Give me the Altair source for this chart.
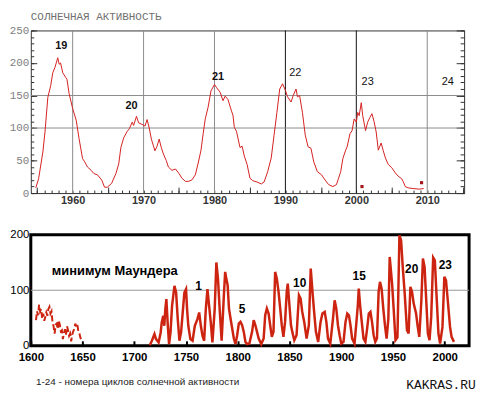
import altair as alt
import pandas as pd

# ---------------- top panel (1954-2015) ----------------
top_years = [1954.8, 1955.2, 1955.8, 1956.1, 1956.5, 1956.9, 1957.2, 1957.5, 1957.9, 1958.1,
             1958.3, 1958.6, 1959.0, 1959.2, 1959.5, 1960.0, 1960.5, 1960.9, 1961.4, 1961.7,
             1962.1, 1962.6, 1963.0, 1963.5, 1964.1, 1964.5, 1964.9, 1965.5, 1966.1, 1966.5,
             1966.8, 1967.2, 1967.7, 1968.0, 1968.4, 1968.6, 1969.0, 1969.3, 1969.9, 1970.2,
             1970.5, 1970.8, 1971.1, 1971.6, 1971.9, 1972.2, 1972.5, 1972.8, 1973.2, 1973.5,
             1974.0, 1974.5, 1975.0, 1975.4, 1975.9, 1976.3, 1976.8, 1977.3, 1977.7, 1978.1,
             1978.4, 1978.7, 1979.1, 1979.5, 1980.0, 1980.3, 1980.8, 1981.2, 1981.5, 1981.9,
             1982.4, 1982.6, 1982.8, 1983.1, 1983.6, 1983.9, 1984.2, 1984.6, 1985.0, 1985.4,
             1986.0, 1986.6, 1987.0, 1987.5, 1988.0, 1988.4, 1988.8, 1989.2, 1989.6, 1990.0,
             1990.3, 1990.8, 1991.1, 1991.5, 1991.7, 1992.0, 1992.4, 1992.8, 1993.2, 1993.6,
             1994.0, 1994.5, 1995.1, 1995.6, 1996.1, 1996.7, 1997.2, 1997.5, 1997.8, 1998.1,
             1998.5, 1998.7, 1999.1, 1999.4, 1999.7, 2000.0, 2000.2, 2000.4, 2000.7, 2000.9,
             2001.3, 2001.6, 2001.9, 2002.2, 2002.5, 2002.8, 2003.1, 2003.5, 2003.8, 2004.1,
             2004.5, 2005.0, 2005.5, 2005.9, 2006.4, 2006.6, 2006.9, 2007.3, 2008.0, 2008.9,
             2009.5]
top_values = [8, 22, 63, 94, 147, 165, 185, 193, 208, 198,
              200, 185, 178, 175, 153, 130, 112, 84, 53, 48,
              40, 35, 30, 28, 20, 9, 9, 15, 30, 45,
              70, 85, 95, 99, 109, 104, 118, 108, 105, 103,
              113, 100, 83, 65, 72, 83, 70, 60, 50, 40,
              35, 37, 30, 23, 18, 18, 20, 28, 46, 66,
              91, 114, 132, 157, 167, 162, 155, 142, 149, 144,
              126, 120, 101, 95, 70, 72, 57, 44, 23, 19,
              17, 14, 17, 33, 54, 89, 124, 160, 168, 158,
              148, 140, 150, 160, 148, 150, 124, 89, 71, 69,
              48, 33, 28, 20, 13, 10, 13, 23, 33, 53,
              66, 71, 91, 96, 114, 109, 124, 119, 139, 119,
              96, 109, 116, 122, 110, 94, 66, 77, 65, 54,
              44, 39, 31, 26, 22, 18, 10, 8, 7, 6,
              7]
top_dot_years = [2000.8, 2009.2]
top_dot_values = [10, 16]
top_grid_gray = [1960, 1970, 1980, 2010]
top_grid_dark = [1990, 2000]
top_grid_h = [100, 150]
top_x_labels = [1960, 1970, 1980, 1990, 2000, 2010]
top_y_labels = [0, 50, 100, 150, 200, 250]
top_minor_x = list(range(1955, 2016))
top_mid_x = [1955, 1965, 1975, 1985, 1995, 2005, 2015]
top_minor_y = list(range(0, 251, 10))
top_cycle_bold = ["19", "20", "21"]
top_cycle_bold_years = [1958.4, 1968.3, 1980.5]
top_cycle_bold_values = [226, 134, 179]
top_cycle_plain = ["22", "23", "24"]
top_cycle_plain_years = [1991.4, 2001.6, 2012.9]
top_cycle_plain_values = [184, 170, 170]

# ---------------- bottom panel (1600-2008) ----------------
early_years = list(range(1605, 1650))
early_values = [46, 62, 55, 74, 62, 66, 49, 58, 45, 52,
                60, 54, 66, 70, 58, 62, 42, 35, 22, 38,
                40, 30, 46, 38, 26, 28, 12, 22, 30, 20,
                35, 28, 18, 22, 8, 20, 26, 30, 40, 34,
                38, 25, 22, 14, 10]
main_years = [1715, 1717, 1719.5, 1721, 1723.5, 1725.5, 1726.5, 1728, 1729, 1730,
              1731, 1732.4, 1733.6, 1735, 1736.5, 1738.8, 1740.4, 1742, 1743.6, 1745.2,
              1746.8, 1748.4, 1750, 1751, 1752.2, 1754.2, 1756.3, 1758.5, 1761, 1762.7,
              1764.3, 1765.9, 1767.5, 1769.1, 1770.7, 1772.3, 1773.9, 1775.5, 1777.7, 1779.3,
              1780.9, 1782.5, 1784.4, 1786.7, 1787.8, 1788.9, 1790.2, 1791.5, 1793, 1794.6,
              1796.2, 1797.8, 1799.4, 1801, 1802.6, 1804.2, 1805.8, 1807.4, 1809, 1811.2,
              1813.8, 1815.4, 1817, 1818.6, 1820.2, 1822.7, 1825, 1826.5, 1828.1, 1829.8,
              1831.3, 1832.9, 1834.5, 1836.1, 1837.7, 1839.4, 1841, 1842.5, 1844.1, 1845.7,
              1847.3, 1848.3, 1849.9, 1851.4, 1852.7, 1854.6, 1856.8, 1859.1, 1860.7, 1862.3,
              1864.2, 1866.5, 1868.7, 1870.5, 1872.2, 1873.5, 1875.5, 1877.7, 1880, 1881.8,
              1884, 1885.6, 1887.2, 1889.4, 1892, 1893.6, 1895.2, 1896.8, 1898.4, 1900,
              1902.2, 1904.1, 1905.8, 1907.4, 1908.9, 1910.5, 1912.8, 1914.4, 1916, 1916.9,
              1918.2, 1919.8, 1921.5, 1923.3, 1925, 1926.6, 1928.2, 1929.7, 1931.3, 1932.9,
              1934.5, 1936.1, 1937.4, 1939, 1940.6, 1942.2, 1943.8, 1945.5, 1946.8, 1949.1,
              1950.7, 1952.4, 1954.3, 1956.2, 1957.8, 1959.4, 1961.3, 1963.5, 1965.1, 1966.8,
              1968.4, 1970, 1972.3, 1973.9, 1975.4, 1977.4, 1978.9, 1980.5, 1982.1, 1983.7,
              1985.3, 1986.9, 1988.8, 1990.4, 1992.3, 1993.9, 1995.5, 1997.8, 1999.6, 2001.2,
              2002.9, 2005.1, 2006.6, 2008.9]
main_values = [1, 9, 21, 12, 6, 24, 42, 54, 36, 66,
               84, 36, 3, 24, 72, 108, 96, 48, 9, 24,
               60, 96, 102, 66, 36, 12, 9, 36, 48, 60,
               36, 18, 9, 66, 102, 72, 42, 6, 66, 150,
               120, 66, 9, 96, 133, 121, 109, 67, 49, 31,
               13, 3, 19, 40, 43, 37, 25, 7, 3, 4,
               25, 46, 37, 25, 13, 3, 13, 55, 67, 58,
               37, 16, 25, 133, 121, 97, 67, 37, 16, 43,
               97, 112, 73, 37, 25, 10, 19, 91, 85, 61,
               43, 13, 37, 139, 97, 67, 25, 7, 43, 58,
               61, 43, 13, 4, 49, 82, 67, 37, 19, 4,
               7, 43, 58, 55, 37, 13, 4, 37, 73, 103,
               73, 43, 13, 7, 31, 58, 61, 43, 19, 7,
               13, 97, 115, 103, 67, 37, 13, 49, 160, 112,
               64, 10, 15, 199, 190, 142, 94, 28, 22, 106,
               97, 76, 58, 34, 16, 82, 157, 142, 82, 22,
               10, 52, 159, 154, 82, 22, 4, 34, 124, 118,
               82, 34, 16, 7]
bottom_x_labels = [1600, 1650, 1700, 1750, 1800, 1850, 1900, 1950, 2000]
bottom_y_labels = [0, 100, 200]
bottom_grid_h = [100]
bottom_cycle_labels = ["1", "5", "10", "15", "20", "23"]
bottom_cycle_years = [1762.1, 1804.2, 1859.8, 1917.3, 1968.0, 2000.6]
bottom_cycle_values = [107, 66, 113, 125, 138, 145]
maunder_text = ["минимум Маундера"]
maunder_year = [1620.3]
maunder_value = [134]
footer_left = ["1-24 - номера циклов солнечной активности"]
footer_left_year = [1605]
footer_left_value = [-66]
footer_right = ["KAKRAS.RU"]
footer_right_year = [2030]
footer_right_value = [-70]

RED_TOP = "#d42020"
RED_BOT = "#cc2410"

# ================= top chart =================
xs_top = alt.Scale(domain=[1954.1, 2015.2], nice=False, zero=False)
ys_top = alt.Scale(domain=[0, 250], nice=False)
top_df = pd.DataFrame({"year": top_years, "value": top_values})


def no_axis_x():
    return alt.X("year:Q", scale=xs_top, axis=None)


def tick_layer(xaxis, yaxis):
    return alt.Chart(top_df).mark_line(strokeOpacity=0).encode(
        x=alt.X("year:Q", scale=xs_top, axis=xaxis),
        y=alt.Y("value:Q", scale=ys_top, axis=yaxis),
    )


def tick_axis(orient, values, size):
    return alt.Axis(orient=orient, values=values, offset=-size, tickSize=size,
                    labels=False, domain=False, grid=False, title=None,
                    tickColor="#333333", tickWidth=1)


grid_gray = alt.Chart(pd.DataFrame({"year": top_grid_gray})).mark_rule(
    color="#8c8c8c", strokeWidth=1).encode(x=no_axis_x())
grid_dark = alt.Chart(pd.DataFrame({"year": top_grid_dark})).mark_rule(
    color="#111111", strokeWidth=1).encode(x=no_axis_x())
grid_h = alt.Chart(pd.DataFrame({"value": top_grid_h})).mark_rule(
    color="#8c8c8c", strokeWidth=1).encode(y=alt.Y("value:Q", scale=ys_top, axis=None))

line_top = alt.Chart(top_df).mark_line(color=RED_TOP, strokeWidth=1).encode(
    x=alt.X("year:Q", scale=xs_top,
            axis=alt.Axis(orient="bottom", values=top_x_labels, title=None, grid=False,
                          domain=False, ticks=False, format="d", labelFlush=False,
                          labelFont="Liberation Sans", labelFontWeight="bold",
                          labelFontSize=11, labelColor="#333333", labelPadding=2)),
    y=alt.Y("value:Q", scale=ys_top,
            axis=alt.Axis(orient="left", values=top_y_labels, title=None, grid=False,
                          domain=False, ticks=False, labelFont="Liberation Mono",
                          labelFontSize=11, labelColor="#808080", labelPadding=2)),
)

dots = alt.Chart(pd.DataFrame({"year": top_dot_years, "value": top_dot_values})).mark_square(
    size=10, color="#a01818", opacity=1).encode(
    x=no_axis_x(), y=alt.Y("value:Q", scale=ys_top, axis=None))

cyc_bold = alt.Chart(pd.DataFrame({"t": top_cycle_bold, "year": top_cycle_bold_years,
                                   "value": top_cycle_bold_values})).mark_text(
    font="Liberation Sans", fontSize=11, fontWeight="bold", color="#111111").encode(
    x=no_axis_x(), y=alt.Y("value:Q", scale=ys_top, axis=None), text="t:N")
cyc_plain = alt.Chart(pd.DataFrame({"t": top_cycle_plain, "year": top_cycle_plain_years,
                                    "value": top_cycle_plain_values})).mark_text(
    font="Liberation Sans", fontSize=11, color="#111111").encode(
    x=no_axis_x(), y=alt.Y("value:Q", scale=ys_top, axis=None), text="t:N")

top = alt.layer(
    grid_gray, grid_dark, grid_h, line_top, dots, cyc_bold, cyc_plain,
    tick_layer(tick_axis("bottom", top_minor_x, 3), tick_axis("left", top_minor_y, 3)),
    tick_layer(tick_axis("bottom", top_mid_x, 6), tick_axis("right", top_minor_y, 4)),
    tick_layer(None, tick_axis("left", top_y_labels, 6)),
    tick_layer(None, tick_axis("right", top_y_labels, 8)),
).resolve_axis(x="independent", y="independent").properties(
    width=437, height=164,
    title=alt.TitleParams("СОЛНЕЧНАЯ АКТИВНОСТЬ", anchor="start", frame="group",
                          font="Liberation Mono", fontSize=11, fontWeight="normal",
                          color="#707070", offset=3),
    view=alt.ViewBackground(stroke="#333333", strokeWidth=1, fill="white"),
)

# ================= bottom chart =================
xs_bot = alt.Scale(domain=[1600, 2023.5], nice=False, zero=False)
ys_bot = alt.Scale(domain=[0, 200], nice=False)


def bx():
    return alt.X("year:Q", scale=xs_bot, axis=None)


def by():
    return alt.Y("value:Q", scale=ys_bot, axis=None)


grid_b = alt.Chart(pd.DataFrame({"value": bottom_grid_h})).mark_rule(
    color="#999999", strokeWidth=1.2).encode(y=by())

early = alt.Chart(pd.DataFrame({"year": early_years, "value": early_values})).mark_line(
    color=RED_BOT, strokeWidth=2, strokeDash=[6, 3]).encode(x=bx(), y=by())

main = alt.Chart(pd.DataFrame({"year": main_years, "value": main_values})).mark_line(
    color=RED_BOT, strokeWidth=2.5).encode(
    x=alt.X("year:Q", scale=xs_bot,
            axis=alt.Axis(orient="bottom", values=bottom_x_labels, format="d", title=None,
                          grid=False, domain=False, offset=-5, tickSize=5, tickWidth=2,
                          tickColor="black", labelPadding=6, labelFlush=False,
                          labelFont="Liberation Sans", labelFontWeight="bold",
                          labelFontSize=11.5, labelColor="black")),
    y=alt.Y("value:Q", scale=ys_bot,
            axis=alt.Axis(orient="left", values=bottom_y_labels, title=None, grid=False,
                          domain=False, ticks=False, labelPadding=2,
                          labelFont="Liberation Sans", labelFontSize=11.5,
                          labelColor="black")),
)

cyc_b = alt.Chart(pd.DataFrame({"t": bottom_cycle_labels, "year": bottom_cycle_years,
                                "value": bottom_cycle_values})).mark_text(
    font="Liberation Sans", fontSize=12, fontWeight="bold", color="black").encode(
    x=bx(), y=by(), text="t:N")

maunder = alt.Chart(pd.DataFrame({"t": maunder_text, "year": maunder_year,
                                  "value": maunder_value})).mark_text(
    font="Liberation Sans", fontSize=13, fontWeight="bold", color="black",
    align="left").encode(x=bx(), y=by(), text="t:N")

foot_l = alt.Chart(pd.DataFrame({"t": footer_left, "year": footer_left_year,
                                 "value": footer_left_value})).mark_text(
    font="Liberation Sans", fontSize=10, color="#222222", align="left").encode(
    x=bx(), y=by(), text="t:N")

foot_r = alt.Chart(pd.DataFrame({"t": footer_right, "year": footer_right_year,
                                 "value": footer_right_value})).mark_text(
    font="Liberation Mono", fontSize=13, color="#111111", align="right").encode(
    x=bx(), y=by(), text="t:N")

bottom = alt.layer(grid_b, early, main, cyc_b, maunder, foot_l, foot_r).resolve_axis(
    x="independent", y="independent").properties(
    width=442, height=112,
    view=alt.ViewBackground(stroke="black", strokeWidth=3, fill="white"),
)

chart = alt.vconcat(top, bottom, spacing=20).properties(
    padding=0, background="white"
).configure_view(stroke=None)

chart.save("out.html", embed_options={"renderer": "svg", "actions": False})
